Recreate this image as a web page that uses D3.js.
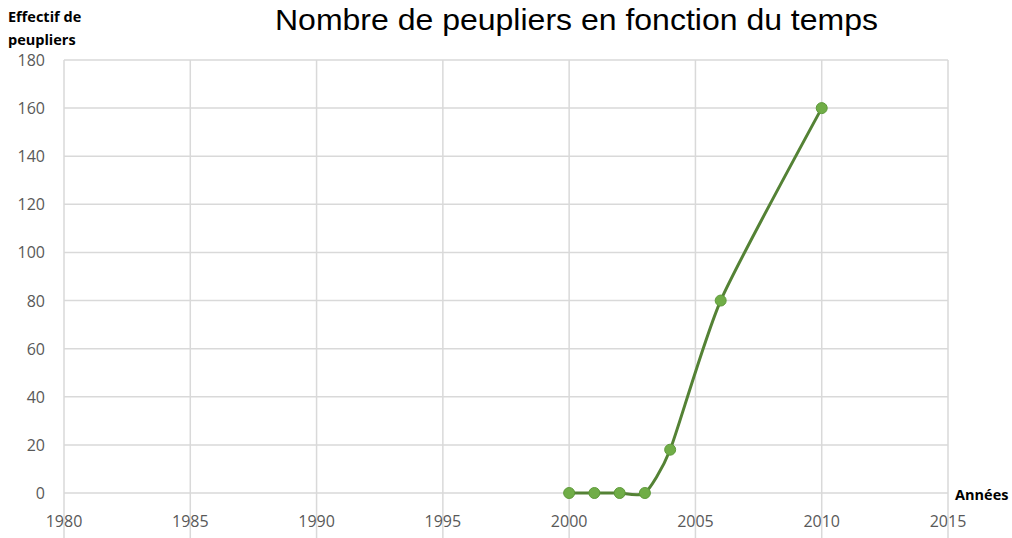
<!DOCTYPE html>
<html>
<head>
  <meta charset="utf-8">
  <title>Nombre de peupliers en fonction du temps</title>
  <style>
  body { margin: 0px; background: #fff; }
  .grid line { stroke: #d9d9d9; stroke-width: 1.5px; }
  .tick-label { fill: #595959; font-family: "Open Sans", sans-serif; font-size: 16px; }
  .bold-label { fill: #000; font-family: "Open Sans", sans-serif; font-weight: bold; font-size: 14.5px; }
  </style>
</head>
<body>
  <svg width="1012" height="538"></svg>
  <script src="https://d3js.org/d3.v7.min.js"></script>
  <script>
  // data
  var years = [2000, 2001, 2002, 2003, 2004, 2006, 2010];
  var counts = [0, 0, 0, 0, 18, 80, 160];
  var xTicks = [1980, 1985, 1990, 1995, 2000, 2005, 2010, 2015];
  var yTicks = [0, 20, 40, 60, 80, 100, 120, 140, 160, 180];

  var svg = d3.select("svg");

  var x = d3.scaleLinear().domain([1980, 2015]).range([64, 948]);
  var y = d3.scaleLinear().domain([0, 180]).range([493, 60]);

  var grid = svg.append("g").attr("class", "grid");

  grid.selectAll(".h")
    .data(yTicks)
    .enter()
    .append("line")
    .attr("x1", x(1980))
    .attr("x2", x(2015))
    .attr("y1", function(d) { return y(d); })
    .attr("y2", function(d) { return y(d); });

  grid.selectAll(".v")
    .data(xTicks)
    .enter()
    .append("line")
    .attr("x1", function(d) { return x(d); })
    .attr("x2", function(d) { return x(d); })
    .attr("y1", y(180))
    .attr("y2", 538);

  svg.selectAll(".ylab")
    .data(yTicks)
    .enter()
    .append("text")
    .attr("class", "tick-label")
    .attr("x", 45)
    .attr("y", function(d) { return y(d) + 6; })
    .style("text-anchor", "end")
    .text(function(d) { return d; });

  svg.selectAll(".xlab")
    .data(xTicks)
    .enter()
    .append("text")
    .attr("class", "tick-label")
    .attr("x", function(d) { return x(d); })
    .attr("y", 527)
    .style("text-anchor", "middle")
    .text(function(d) { return d; });

  var points = years.map(function(d, i) { return [d, counts[i]]; });

  var line = d3.line()
    .x(function(d) { return x(d[0]); })
    .y(function(d) { return y(d[1]); })
    .curve(d3.curveCardinal.tension(0.4));

  svg.append("path")
    .datum(points)
    .attr("fill", "none")
    .attr("stroke", "#548235")
    .attr("stroke-width", 3)
    .attr("d", line);

  svg.selectAll(".pt")
    .data(points)
    .enter()
    .append("circle")
    .attr("cx", function(d) { return x(d[0]); })
    .attr("cy", function(d) { return y(d[1]); })
    .attr("r", 5.5)
    .attr("fill", "#70ad47")
    .attr("stroke", "#5e9a3a")
    .attr("stroke-width", 1);

  svg.append("text")
    .attr("x", 275)
    .attr("y", 30)
    .attr("textLength", 603)
    .attr("lengthAdjust", "spacingAndGlyphs")
    .style("font-family", "'Liberation Sans', Arial, sans-serif")
    .style("font-size", "30px")
    .style("fill", "#000")
    .text("Nombre de peupliers en fonction du temps");

  var yTitle = svg.append("text").attr("class", "bold-label");
  yTitle.append("tspan").attr("x", 8).attr("y", 22).text("Effectif de");
  yTitle.append("tspan").attr("x", 8).attr("y", 45).text("peupliers");

  svg.append("text")
    .attr("class", "bold-label")
    .attr("x", 955)
    .attr("y", 500)
    .text("Années");
  </script>
</body>
</html>
